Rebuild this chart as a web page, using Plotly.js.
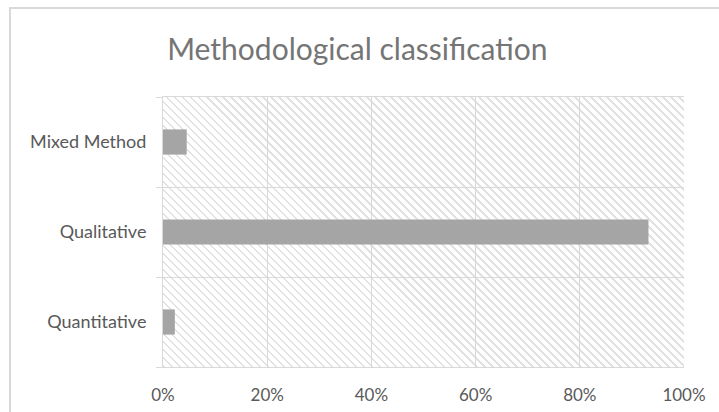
<!DOCTYPE html>
<html>
<head>
<meta charset="utf-8">
<script src="https://cdn.plot.ly/plotly-3.0.1.min.js"></script>
<style>
  html, body { margin: 0; padding: 0; background: #ffffff; }
  #wrap { position: relative; width: 719px; height: 412px; overflow: hidden; }
  #frame { position: absolute; left: 9px; top: 7px; width: 800px; height: 500px; border: 2px solid #d9d9d9; box-sizing: border-box; }
  #hatch { position: absolute; left: 163px; top: 97px; width: 521px; height: 270px;
    background: repeating-linear-gradient(45deg, #e2e2e2 0px, #e2e2e2 2px, #ffffff 2px, #ffffff 5.66px); }
  #chart { position: absolute; left: 0; top: 0; width: 719px; height: 412px; }
</style>
</head>
<body>
<div id="wrap">
  <div id="frame"></div>
  <div id="hatch"></div>
  <div id="chart"></div>
</div>
<script>
const categories = ["Quantitative", "Qualitative", "Mixed Method"];
const values = [2.27, 93.18, 4.55];
const xTickValues = [0, 20, 40, 60, 80, 100];
const xTickLabels = ["0%", "20%", "40%", "60%", "80%", "100%"];
const chartTitle = "Methodological classification";

const fontFamily = "Lato, 'Open Sans', sans-serif";

Plotly.newPlot("chart", [{
  type: "bar",
  orientation: "h",
  x: values,
  y: categories,
  marker: { color: "#a5a5a5" },
  hoverinfo: "x+y"
}], {
  width: 719,
  height: 412,
  margin: { l: 163, r: 35, t: 97, b: 45 },
  paper_bgcolor: "rgba(0,0,0,0)",
  plot_bgcolor: "rgba(0,0,0,0)",
  bargap: 0.72,
  showlegend: false,
  title: {
    text: chartTitle,
    font: { family: fontFamily, size: 30, color: "#757575" },
    x: 0.497, xref: "container", xanchor: "center",
    y: 0.88, yref: "container", yanchor: "middle"
  },
  xaxis: {
    range: [0, 100],
    tickvals: xTickValues,
    ticktext: xTickLabels,
    showgrid: true,
    gridcolor: "#d9d9d9",
    gridwidth: 1,
    zeroline: false,
    showline: true,
    mirror: true,
    linecolor: "#d9d9d9",
    ticks: "",
    tickfont: { family: fontFamily, size: 17, color: "#595959" },
    ticklabelstandoff: 13,
    fixedrange: true
  },
  yaxis: {
    type: "category",
    categoryorder: "array",
    categoryarray: categories,
    tickson: "boundaries",
    ticks: "outside",
    ticklen: 6,
    tickcolor: "#d9d9d9",
    showgrid: true,
    gridcolor: "#d9d9d9",
    showline: true,
    linecolor: "#d9d9d9",
    zeroline: false,
    tickfont: { family: fontFamily, size: 18, color: "#595959" },
    ticklabelstandoff: 12,
    fixedrange: true
  }
}, { displayModeBar: false, staticPlot: true });
</script>
</body>
</html>
